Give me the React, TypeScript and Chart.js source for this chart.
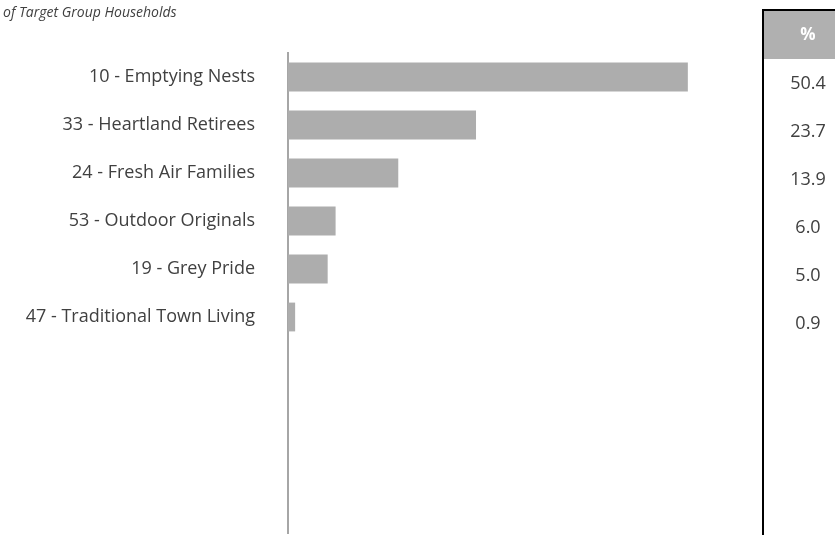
import React, { useEffect, useRef } from "react";
import { Chart, registerables } from "chart.js";

Chart.register(...registerables);

const categories = [
  "10 - Emptying Nests",
  "33 - Heartland Retirees",
  "24 - Fresh Air Families",
  "53 - Outdoor Originals",
  "19 - Grey Pride",
  "47 - Traditional Town Living",
  "",
  "",
  "",
  "",
];
const values: (number | null)[] = [50.4, 23.7, 13.9, 6.0, 5.0, 0.9, null, null, null, null];
const tableLabels = ["50.4", "23.7", "13.9", "6.0", "5.0", "0.9"];
const tableHeader = "%";
const titleText = "of Target Group Households";

const FONT = "'Open Sans', 'Noto Sans', sans-serif";

const tablePlugin = {
  id: "tablePlugin",
  afterDraw(chart: any) {
    const ctx = chart.ctx as CanvasRenderingContext2D;
    const yScale = chart.scales.y;
    ctx.save();
    // title
    ctx.fillStyle = "#404040";
    ctx.font = `italic 400 14px ${FONT}`;
    ctx.textAlign = "left";
    ctx.textBaseline = "middle";
    ctx.fillText(titleText, 3, 13);
    // header
    ctx.fillStyle = "#b0b0b0";
    ctx.fillRect(764, 11, 71, 48);
    ctx.fillStyle = "#000000";
    ctx.fillRect(762, 9, 2, 526);
    ctx.fillRect(762, 9, 73, 2);
    ctx.fillStyle = "#ffffff";
    ctx.font = `bold 17px ${FONT}`;
    ctx.textAlign = "center";
    ctx.fillText(tableHeader, 808, 35);
    ctx.fillStyle = "#404040";
    ctx.font = `18px ${FONT}`;
    tableLabels.forEach((t, i) => {
      const y = yScale.getPixelForValue(i) + 6.5;
      ctx.fillText(t, 808, y);
    });
    ctx.restore();
  },
};

export default function App() {
  const ref = useRef<HTMLCanvasElement>(null);
  useEffect(() => {
    if (!ref.current) return;
    const chart = new Chart(ref.current, {
      type: "bar",
      data: {
        labels: categories,
        datasets: [
          {
            data: values,
            backgroundColor: "#adadad",
            borderWidth: 0,
            categoryPercentage: 0.6,
            barPercentage: 1,
          },
        ],
      },
      options: {
        indexAxis: "y",
        animation: false,
        responsive: false,
        layout: { autoPadding: false, padding: { top: 53, bottom: 2, right: 71, left: 0 } },
        plugins: { legend: { display: false }, tooltip: { enabled: false }, title: { display: false } },
        scales: {
          x: { display: false, min: 0, max: 60 },
          y: {
            grid: { display: false, drawTicks: false },
            border: { display: true, color: "#a6a6a6", width: 2 },
            ticks: {
              color: "#404040",
              font: { family: FONT, size: 18 },
              padding: 33,
              autoSkip: false,
            },
            afterFit(scale: any) {
              scale.width = 288;
              scale.paddingTop = 0;
              scale.paddingBottom = 0;
            },
          },
        },
      },
      plugins: [tablePlugin],
    });
    return () => chart.destroy();
  }, []);
  return (
    <div style={{ position: "absolute", left: 0, top: 0, width: 835, height: 535, background: "#fff" }}>
      <canvas ref={ref} width={835} height={535} style={{ width: 835, height: 535 }} />
    </div>
  );
}
